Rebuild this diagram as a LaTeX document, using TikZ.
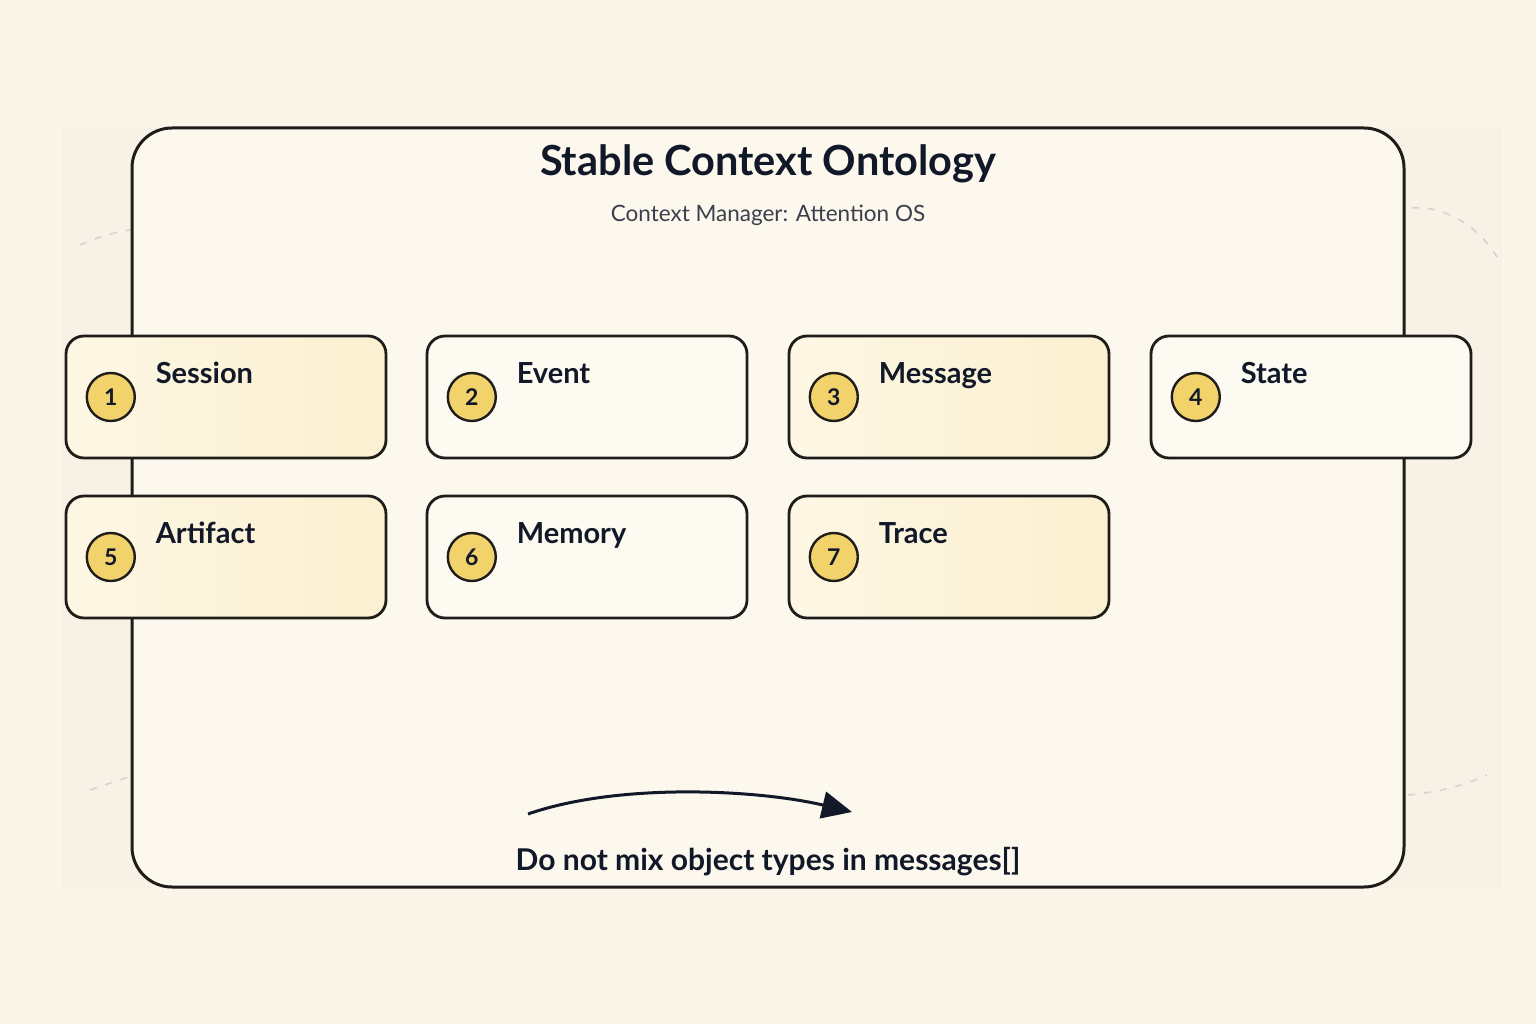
\documentclass[tikz,border=0pt]{standalone}
\usepackage{fontspec}
\setmainfont{Lato}
\usetikzlibrary{positioning,arrows.meta}
\definecolor{paper}{HTML}{FBF4E8}
\definecolor{band}{HTML}{F8F1E5}
\definecolor{panel}{HTML}{FCF8EE}
\definecolor{ink}{HTML}{111827}
\definecolor{edge}{HTML}{1F1D1B}
\definecolor{subink}{HTML}{3A3F4B}
\definecolor{warmA}{HTML}{FDF7E4}
\definecolor{warmB}{HTML}{FBF0D0}
\definecolor{plain}{HTML}{FDFAF1}
\definecolor{gold}{HTML}{F2D36B}
\definecolor{faint}{HTML}{D8D3CB}

\begin{document}
\begin{tikzpicture}[
  x=1pt, y=-1pt,
  card/.style={draw=edge, line width=2.8pt, rounded corners=18pt, minimum width=320pt, minimum height=122pt, inner sep=0pt},
  warm/.style={card, left color=warmA, right color=warmB},
  cool/.style={card, fill=plain},
  badge/.style={circle, draw=edge, line width=2.4pt, fill=gold, minimum size=48pt, inner sep=0pt, text=ink, font=\fontsize{23}{23}\selectfont\bfseries},
  lbl/.style={anchor=base west, inner sep=0pt, text=ink, font=\fontsize{29}{32}\selectfont\bfseries},
  deco/.style={draw=faint, line width=1.6pt, dashed, dash pattern=on 7pt off 9pt}
]
\useasboundingbox (0,0) rectangle (1536,1024);
\fill[paper] (0,0) rectangle (1536,1024);
\fill[band] (62,128) rectangle (1502,888);

% faint arcs behind the panel
\draw[deco] (80,245) .. controls (98,237) and (115,232) .. (130,230);
\draw[deco] (1412,208) .. controls (1445,205) and (1480,228) .. (1497,257);
\draw[deco] (90,790) .. controls (105,785) and (118,780) .. (130,777);
\draw[deco] (1408,795) .. controls (1440,792) and (1465,785) .. (1487,775);

% Panel
\draw[draw=edge, fill=panel, line width=3pt, rounded corners=40pt] (132,128) rectangle (1404,887);
\node[text=ink, font=\fontsize{41.5}{46}\selectfont\bfseries] (title) at (768,164) {Stable Context Ontology};
\node[text=subink, font=\fontsize{22.5}{26}\selectfont] (sub) at (768,215) {Context Manager: Attention OS};

% Object types
\node[warm] (session) at (226,397) {};
\node[cool] (event) at (587,397) {};
\node[warm] (message) at (949,397) {};
\node[cool] (state) at (1311,397) {};
\node[warm] (artifact) at (226,557) {};
\node[cool] (memory) at (587,557) {};
\node[warm] (trace) at (949,557) {};

\foreach \c/\n/\t in {session/1/Session, event/2/Event, message/3/Message, state/4/State,
                      artifact/5/Artifact, memory/6/Memory, trace/7/Trace} {
  \node[badge, right=21pt of \c.west] (b\n) {\n};
  \node[lbl] (t\n) at ([shift={(91,49)}]\c.north west) {\t};
}

% Rule
\coordinate (ruleS) at (528,814);
\coordinate (ruleE) at (852,812);
\draw[draw=ink, line width=3pt, -{Triangle[length=30pt, width=27pt]}]
  (ruleS) .. controls (620,782) and (760,790) .. (ruleE);
\node[text=ink, font=\fontsize{30}{34}\selectfont\bfseries] (rule) at (768,862) {Do not mix object types in messages[]};
\end{tikzpicture}
\end{document}
